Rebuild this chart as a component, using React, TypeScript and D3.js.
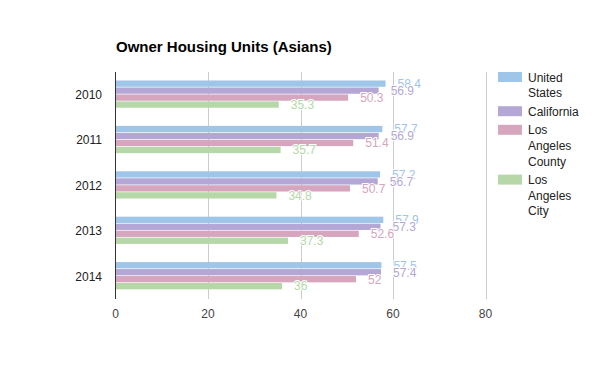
import * as d3 from "d3";

// chart data
const years = ["2010", "2011", "2012", "2013", "2014"];
const seriesNames = ["United States", "California", "Los Angeles County", "Los Angeles City"];
const unitedStates = [58.4, 57.7, 57.2, 57.9, 57.5];
const california = [56.9, 56.9, 56.7, 57.3, 57.4];
const laCounty = [50.3, 51.4, 50.7, 52.6, 52];
const laCity = [35.3, 35.7, 34.8, 37.3, 36];
const xTicks = [0, 20, 40, 60, 80];
const legendLines = [["United", "States"], ["California"], ["Los", "Angeles", "County"], ["Los", "Angeles", "City"]];

const colors = ["#9fc5e8", "#b4a7d6", "#d5a6bd", "#b6d7a8"];
const font = "Arial, 'Liberation Sans', sans-serif";

export default function App() {
  const width = 600;
  const height = 371;
  const margin = { top: 72, left: 115.5, right: 114.5, bottom: 72 };
  const values = [unitedStates, california, laCounty, laCity];

  const x = d3.scaleLinear().domain([0, 80]).range([margin.left, width - margin.right]);
  const y = d3.scaleBand().domain(years).range([margin.top, height - margin.bottom]);
  const groupH = y.bandwidth() * 0.6;
  const inner = d3.scaleBand().domain(seriesNames).range([0, groupH]).paddingInner(0.1);
  const groupOffset = (y.bandwidth() - groupH) / 2 - 0.6;

  // legend layout
  const lineH = 15.6;
  let ly = 72;
  const legendItems = legendLines.map((lines, i) => {
    const item = { top: ly, lines, color: colors[i] };
    ly += lines.length * lineH + 3;
    return item;
  });

  return (
    <svg width={width} height={height} style={{ display: "block", margin: -8 }} fontFamily={font}>
      <rect width={width} height={height} fill="#fff" />
      <text x={116} y={52} fontSize={15} fontWeight="bold" fill="#000">
        Owner Housing Units (Asians)
      </text>

      {/* gridlines */}
      {xTicks.slice(1).map((t) => (
        <line key={t} x1={Math.round(x(t)) + 0.5} x2={Math.round(x(t)) + 0.5} y1={margin.top} y2={height - margin.bottom} stroke="#ccc" />
      ))}

      {/* bars */}
      {years.map((yr, yi) => (
        <g key={yr} transform={`translate(0,${y(yr)! + groupOffset})`}>
          {seriesNames.map((s, si) => (
            <rect key={s} x={x(0)} y={inner(s)} width={x(values[si][yi]) - x(0)} height={inner.bandwidth()} fill={colors[si]} />
          ))}
        </g>
      ))}

      {/* value labels */}
      {years.map((yr, yi) => (
        <g key={yr} transform={`translate(0,${y(yr)! + groupOffset})`}>
          {seriesNames.map((s, si) => (
            <text
              key={s}
              x={x(values[si][yi]) + 12}
              y={inner(s)! + inner.bandwidth() / 2}
              dy="0.36em"
              fontSize={12}
              fill={colors[si]}
              stroke="#fff"
              strokeWidth={2}
              paintOrder="stroke"
            >
              {values[si][yi]}
            </text>
          ))}
        </g>
      ))}

      {/* axis */}
      <line x1={x(0)} x2={x(0)} y1={margin.top} y2={height - margin.bottom} stroke="#333" />
      {years.map((yr) => (
        <text key={yr} x={102} y={y(yr)! + y.bandwidth() / 2} dy="0.36em" textAnchor="end" fontSize={12} fill="#222">
          {yr}
        </text>
      ))}
      {xTicks.map((t) => (
        <text key={t} x={x(t)} y={318} textAnchor="middle" fontSize={12} fill="#444">
          {t}
        </text>
      ))}

      {/* legend */}
      {legendItems.map((it, i) => (
        <g key={i}>
          <rect x={498} y={it.top} width={24} height={10} fill={it.color} />
          {it.lines.map((ln, li) => (
            <text key={li} x={528} y={it.top + 9.5 + li * lineH} fontSize={12} fill="#222">
              {ln}
            </text>
          ))}
        </g>
      ))}
    </svg>
  );
}
